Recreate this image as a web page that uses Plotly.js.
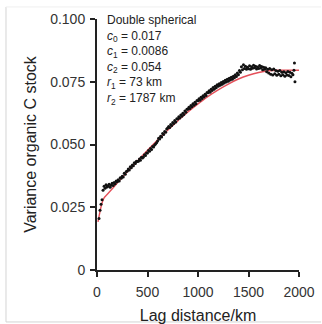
<!DOCTYPE html>
<html>
<head>
<meta charset="utf-8">
<script src="https://cdn.plot.ly/plotly-3.0.1.min.js"></script>
<style>html,body{margin:0;padding:0;background:#fff;}#chart{width:322px;height:324px;}</style>
</head>
<body>
<div id="chart"></div>
<script>
// Empirical semivariance: lag distance (km) and variance
const lagKm = [
  20,30,40,50,60,70,80,90,100,
  110,120,130,140,150,160,170,180,190,
  200,210,220,230,240,250,260,270,280,290,
  300,310,320,330,340,350,360,370,380,390,
  400,410,420,430,440,450,460,470,480,490,
  500,510,520,530,540,550,560,570,580,590,
  600,610,620,630,640,650,660,670,680,690,
  700,710,720,730,740,750,760,770,780,790,
  800,810,820,830,840,850,860,870,880,890,
  900,910,920,930,940,950,960,970,980,990,
  1000,1010,1020,1030,1040,1050,1060,1070,1080,1090,
  1100,1110,1120,1130,1140,1150,1160,1170,1180,1190,
  1200,1210,1220,1230,1240,1250,1260,1270,1280,1290,
  1300,1310,1320,1330,1340,1350,1360,1370,1380,1390,
  1400,1410,1420,1430,1440,1450,1460,1470,1480,1490,
  1500,1510,1520,1530,1540,1550,1560,1570,1580,1590,
  1600,1610,1620,1630,1640,1650,1660,1670,1680,1690,
  1700,1710,1720,1730,1740,1750,1760,1770,1780,1790,
  1800,1810,1820,1830,1840,1850,1860,1870,1880,1890,
  1900,1910,1920,1930,1940,1950,1955,1960
];
const variance = [
  0.0205,0.0238,0.0262,0.0280,0.0318,0.0334,0.0326,0.0340,0.0331,
  0.0335,0.0342,0.0330,0.0338,0.0346,0.0337,0.0349,0.0344,0.0355,
  0.0352,0.0360,0.0355,0.0368,0.0366,0.0374,0.0371,0.0385,0.0381,0.0392,
  0.0394,0.0402,0.0398,0.0411,0.0407,0.0418,0.0415,0.0427,0.0424,0.0433,
  0.0432,0.0433,0.0442,0.0437,0.0449,0.0446,0.0450,0.0459,0.0456,0.0466,
  0.0466,0.0476,0.0473,0.0484,0.0480,0.0492,0.0490,0.0498,0.0502,0.0507,
  0.0514,0.0525,0.0522,0.0533,0.0530,0.0544,0.0540,0.0552,0.0549,0.0562,
  0.0566,0.0572,0.0568,0.0580,0.0576,0.0588,0.0584,0.0596,0.0590,0.0603,
  0.0602,0.0611,0.0606,0.0618,0.0613,0.0625,0.0620,0.0633,0.0628,0.0640,
  0.0640,0.0648,0.0643,0.0655,0.0650,0.0662,0.0656,0.0668,0.0662,0.0675,
  0.0674,0.0682,0.0676,0.0688,0.0683,0.0694,0.0689,0.0700,0.0695,0.0707,
  0.0706,0.0714,0.0708,0.0720,0.0715,0.0727,0.0720,0.0732,0.0726,0.0738,
  0.0732,0.0742,0.0736,0.0747,0.0740,0.0751,0.0745,0.0756,0.0749,0.0760,
  0.0752,0.0764,0.0757,0.0768,0.0760,0.0772,0.0766,0.0778,0.0771,0.0785,
  0.0778,0.0795,0.0788,0.0810,0.0798,0.0818,0.0803,0.0812,0.0800,0.0808,
  0.0802,0.0814,0.0800,0.0810,0.0804,0.0816,0.0806,0.0812,0.0801,0.0809,
  0.0803,0.0815,0.0805,0.0811,0.0798,0.0808,0.0800,0.0806,0.0790,0.0800,
  0.0785,0.0803,0.0780,0.0798,0.0777,0.0801,0.0782,0.0795,0.0776,0.0792,
  0.0780,0.0795,0.0774,0.0788,0.0778,0.0790,0.0772,0.0786,0.0777,0.0791,
  0.0775,0.0788,0.0770,0.0784,0.0778,0.0796,0.0825,0.0750
];

// Fitted double spherical model curve
const modelKm = [10,25,50,73,100,200,300,400,500,600,700,800,900,1000,1100,1200,1300,1400,1500,1600,1700,1787,2000];
const modelVar = [0.0192,0.0224,0.0267,0.0289,0.0301,0.0346,0.0391,0.0434,0.0477,0.0518,0.0557,0.0594,0.0630,0.0662,0.0692,0.0718,0.0741,0.0761,0.0776,0.0787,0.0794,0.0796,0.0796];

// Axis ticks
const yTickVals = [0,0.025,0.05,0.075,0.1];
const yTickText = ['0','0.025','0.050','0.075','0.100'];
const xTickVals = [0,500,1000,1500,2000];
const xTickText = ['0','500','1000','1500','2000'];

const fitLabel = ['Double spherical','<i>c</i><sub>0</sub> = 0.017','<i>c</i><sub>1</sub> = 0.0086','<i>c</i><sub>2</sub> = 0.054','<i>r</i><sub>1</sub> = 73 km','<i>r</i><sub>2</sub> = 1787 km'];

const FONT = 'Liberation Sans, Arial, Helvetica, sans-serif';

const traces = [
  {x: modelKm, y: modelVar, type: 'scatter', mode: 'lines', line: {color: '#e5505a', width: 1.4, shape: 'spline'}, hoverinfo: 'skip'},
  {x: lagKm, y: variance, type: 'scatter', mode: 'markers', marker: {color: '#111', size: 3}}
];

const axisCommon = {
  showgrid: false, zeroline: false, showline: true, linecolor: '#222', linewidth: 2,
  ticks: 'outside', ticklen: 5, tickwidth: 2, tickcolor: '#222',
  tickfont: {family: FONT, size: 14, color: '#333'}, automargin: false
};

const layout = {
  width: 322, height: 324,
  margin: {l: 97, r: 23, t: 19, b: 54},
  paper_bgcolor: '#fff', plot_bgcolor: '#fff',
  showlegend: false,
  font: {family: FONT, color: '#222'},
  xaxis: Object.assign({}, axisCommon, {
    range: [0, 2000], tickvals: xTickVals, ticktext: xTickText, ticklabelstandoff: 3,
    title: {text: 'Lag distance/km', font: {family: FONT, size: 16, color: '#222'}, standoff: 12}
  }),
  yaxis: Object.assign({}, axisCommon, {
    range: [0, 0.1], tickvals: yTickVals, ticktext: yTickText, ticklabelstandoff: 2,
    title: {text: 'Variance organic C stock', font: {family: FONT, size: 16, color: '#222'}, standoff: 10}
  }),
  annotations: [{
    xref: 'paper', yref: 'paper', x: 0.04, y: 1.03, xanchor: 'left', yanchor: 'top', align: 'left',
    showarrow: false, text: fitLabel.join('<br>'), font: {family: FONT, size: 12, color: '#222'}
  }],
  shapes: [
    {type: 'line', xref: 'paper', yref: 'paper', x0: -0.4505, x1: -0.4505, y0: 1.048, y1: -0.207, line: {color: '#d4d4d4', width: 1}},
    {type: 'line', xref: 'paper', yref: 'paper', x0: -0.4505, x1: 1.109, y0: -0.207, y1: -0.207, line: {color: '#d4d4d4', width: 1}},
    {type: 'line', xref: 'paper', yref: 'paper', x0: -0.4505, x1: 1.109, y0: 1.048, y1: 1.048, line: {color: '#efefef', width: 1}}
  ]
};

Plotly.newPlot('chart', traces, layout, {displayModeBar: false, staticPlot: true});
</script>
</body>
</html>
